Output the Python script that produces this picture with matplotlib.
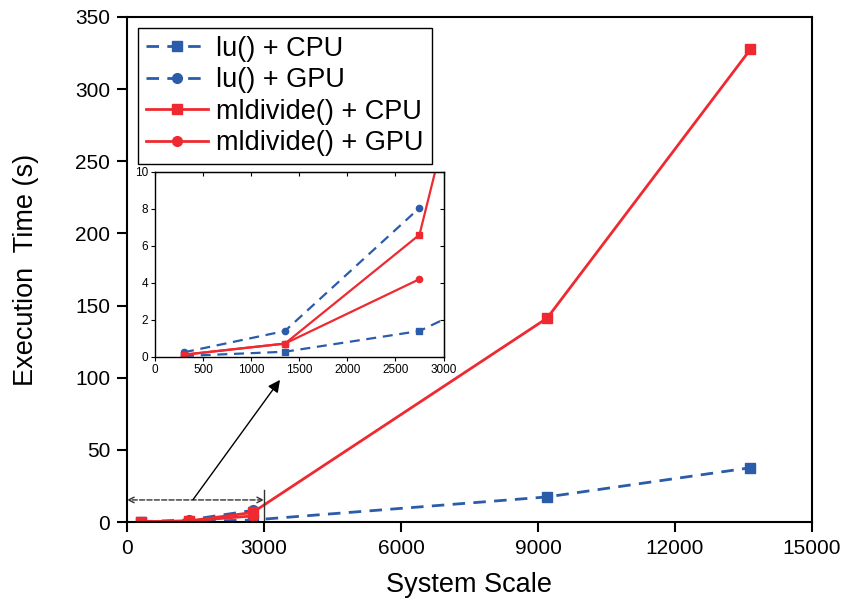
import matplotlib.pyplot as plt
import numpy as np

plt.rcParams['font.family'] = ['Liberation Sans', 'DejaVu Sans']

# system sizes and timings (seconds)
scale_all = [300, 1350, 2750, 9200, 13650]
scale_gpu = [300, 1350, 2750]
lu_cpu = [0.05, 0.28, 1.4, 17.4, 37.6]
lu_gpu = [0.25, 1.4, 8.05]
mld_cpu = [0.12, 0.72, 6.6, 141.3, 327.5]
mld_gpu = [0.12, 0.72, 4.2]

blue = '#2a5caa'
red = '#ee2a30'
dash = (4.5, 3)

fig = plt.figure(figsize=(8.48, 6.07), dpi=100)
ax = fig.add_axes([0.1498, 0.140, 0.8077, 0.832])


def draw(a, ms, lw):
    a.plot(scale_all, lu_cpu, '--s', dashes=dash, color=blue, lw=lw, ms=ms, label='lu() + CPU')
    a.plot(scale_gpu, lu_gpu, '--o', dashes=dash, color=blue, lw=lw, ms=ms, label='lu() + GPU')
    a.plot(scale_all, mld_cpu, '-s', color=red, lw=lw, ms=ms, label='mldivide() + CPU')
    a.plot(scale_gpu, mld_gpu, '-o', color=red, lw=lw, ms=ms, label='mldivide() + GPU')


draw(ax, 7, 2)
ax.set_xlim(0, 15000)
ax.set_ylim(0, 350)
ax.set_xticks(np.arange(0, 15001, 3000))
ax.set_yticks(np.arange(0, 351, 50))
ax.tick_params(direction='out', length=7, width=1.5, labelsize=15, pad=5)
for s in ax.spines.values():
    s.set_linewidth(1.5)
ax.set_xlabel('System Scale', fontsize=19.5, labelpad=10)
ax.set_ylabel('Execution  Time (s)', fontsize=19.5, labelpad=26)

leg = ax.legend(loc='upper left', fontsize=19.5, handlelength=2.3, fancybox=False,
                edgecolor='black', framealpha=1, borderpad=0.3, labelspacing=0.2,
                handletextpad=0.3, borderaxespad=0.4)
leg.get_frame().set_linewidth(1.0)

# zoomed region bracket and pointer
ax.annotate('', xy=(0, 15.3), xytext=(3000, 15.3),
            arrowprops=dict(arrowstyle='<->', ls='--', lw=1, color='#333333',
                            shrinkA=0, shrinkB=0))
ax.plot([3000, 3000], [0, 22], color='#333333', lw=1)
ax.annotate('', xy=(3350, 98.5), xytext=(1445, 15.5),
            arrowprops=dict(arrowstyle='-|>', lw=1, color='black',
                            shrinkA=0, shrinkB=0, mutation_scale=18))

ins = fig.add_axes([0.183, 0.412, 0.340, 0.305])
draw(ins, 4.5, 1.6)
ins.set_xlim(0, 3000)
ins.set_ylim(0, 10)
ins.set_xticks(np.arange(0, 3001, 500))
ins.set_yticks(np.arange(0, 11, 2))
ins.tick_params(direction='out', length=3, width=0.8, labelsize=8.5, pad=2)
for s in ins.spines.values():
    s.set_linewidth(1.0)
top = ins.secondary_xaxis('top')
top.set_xticks(np.arange(0, 3001, 500))
top.tick_params(direction='in', length=3, width=0.8, labeltop=False)
right = ins.secondary_yaxis('right')
right.set_yticks(np.arange(0, 11, 2))
right.tick_params(direction='in', length=3, width=0.8, labelright=False)

fig.savefig('out.png', dpi=100)
